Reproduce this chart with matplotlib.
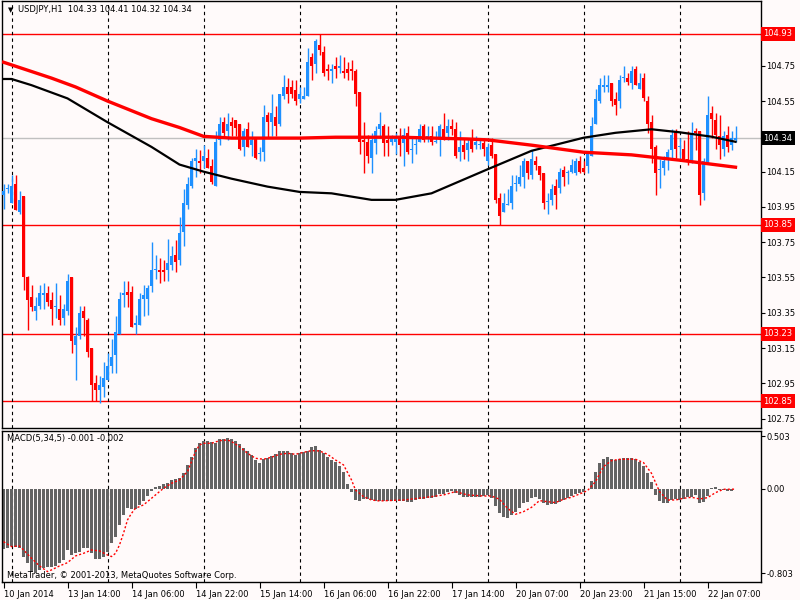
import matplotlib
matplotlib.use("Agg")
import matplotlib.pyplot as plt
from matplotlib.transforms import blended_transform_factory

# USDJPY H1 bars
opens = [104.02, 104.05, 103.97, 104.08, 103.92, 104.01, 103.55, 103.44, 103.36, 103.39,
         103.45, 103.46, 103.42, 103.38, 103.37, 103.32, 103.36, 103.55, 103.17, 103.22,
         103.36, 103.31, 103.15, 102.95, 102.91, 102.93, 102.97, 103.05, 103.11, 103.23,
         103.45, 103.47, 103.47, 103.28, 103.28, 103.43, 103.43, 103.50, 103.59, 103.59,
         103.59, 103.59, 103.62, 103.68, 103.65, 103.81, 103.96, 104.07, 104.21, 104.21,
         104.21, 104.23, 104.18, 104.07, 104.33, 104.43, 104.38, 104.43, 104.44, 104.42,
         104.29, 104.39, 104.30, 104.34, 104.25, 104.26, 104.47, 104.43, 104.46, 104.42,
         104.58, 104.63, 104.63, 104.61, 104.56, 104.56, 104.58, 104.80, 104.76, 104.87,
         104.83, 104.73, 104.72, 104.75, 104.74, 104.72, 104.73, 104.73, 104.72, 104.60,
         104.33, 104.32, 104.23, 104.31, 104.39, 104.41, 104.33, 104.32, 104.32, 104.34,
         104.31, 104.37, 104.27, 104.30, 104.32, 104.41, 104.34, 104.35, 104.32, 104.33,
         104.39, 104.37, 104.41, 104.39, 104.26, 104.30, 104.27, 104.34, 104.30, 104.30,
         104.31, 104.21, 104.30, 104.25, 104.00, 103.92, 103.96, 103.97, 104.08, 104.08,
         104.12, 104.21, 104.13, 104.21, 104.18, 104.14, 103.98, 103.99, 104.07, 104.06,
         104.16, 104.14, 104.15, 104.14, 104.21, 104.17, 104.18, 104.24, 104.42, 104.55,
         104.63, 104.63, 104.65, 104.56, 104.55, 104.68, 104.68, 104.65, 104.73, 104.62,
         104.68, 104.55, 104.43, 104.29, 104.16, 104.17, 104.22, 104.27, 104.38, 104.29,
         104.28, 104.22, 104.21, 104.38, 104.38, 104.03, 104.20, 104.48, 104.44, 104.35,
         104.28, 104.36, 104.30, 104.33]
highs = [104.08, 104.08, 104.13, 104.13, 104.04, 104.01, 103.56, 103.51, 103.44, 103.51,
         103.52, 103.50, 103.47, 103.52, 103.45, 103.40, 103.57, 103.55, 103.27, 103.39,
         103.39, 103.32, 103.15, 103.00, 102.99, 103.07, 103.12, 103.20, 103.33, 103.47,
         103.53, 103.53, 103.50, 103.34, 103.46, 103.51, 103.51, 103.75, 103.68, 103.66,
         103.65, 103.77, 103.73, 103.76, 103.89, 104.05, 104.12, 104.23, 104.28, 104.27,
         104.30, 104.28, 104.22, 104.38, 104.46, 104.46, 104.48, 104.46, 104.44, 104.42,
         104.40, 104.43, 104.38, 104.34, 104.29, 104.53, 104.49, 104.59, 104.52, 104.59,
         104.70, 104.68, 104.67, 104.67, 104.63, 104.63, 104.85, 104.82, 104.90, 104.93,
         104.86, 104.76, 104.76, 104.80, 104.81, 104.80, 104.77, 104.78, 104.73, 104.60,
         104.43, 104.36, 104.37, 104.41, 104.49, 104.42, 104.41, 104.36, 104.37, 104.40,
         104.40, 104.41, 104.34, 104.34, 104.42, 104.42, 104.41, 104.41, 104.38, 104.42,
         104.48, 104.45, 104.45, 104.43, 104.38, 104.34, 104.34, 104.39, 104.35, 104.34,
         104.34, 104.31, 104.34, 104.25, 104.03, 104.03, 104.05, 104.13, 104.13, 104.19,
         104.23, 104.21, 104.27, 104.24, 104.18, 104.14, 104.03, 104.08, 104.11, 104.17,
         104.18, 104.16, 104.22, 104.23, 104.24, 104.21, 104.26, 104.46, 104.62, 104.68,
         104.70, 104.70, 104.65, 104.60, 104.70, 104.75, 104.71, 104.75, 104.75, 104.71,
         104.71, 104.58, 104.47, 104.30, 104.22, 104.24, 104.28, 104.39, 104.39, 104.34,
         104.33, 104.38, 104.43, 104.40, 104.38, 104.23, 104.58, 104.52, 104.48, 104.47,
         104.38, 104.41, 104.38, 104.41]
lows = [103.94, 104.03, 103.97, 103.93, 103.91, 103.48, 103.25, 103.36, 103.31, 103.37,
        103.37, 103.39, 103.28, 103.32, 103.28, 103.28, 103.34, 103.12, 102.97, 103.20,
        103.22, 103.10, 102.85, 102.85, 102.84, 102.87, 102.97, 103.01, 103.01, 103.23,
        103.38, 103.38, 103.27, 103.23, 103.28, 103.33, 103.34, 103.47, 103.54, 103.52,
        103.53, 103.53, 103.59, 103.58, 103.62, 103.73, 103.94, 104.06, 104.12, 104.14,
        104.17, 104.17, 104.08, 104.07, 104.30, 104.34, 104.33, 104.35, 104.35, 104.27,
        104.24, 104.29, 104.24, 104.22, 104.21, 104.21, 104.34, 104.35, 104.35, 104.41,
        104.56, 104.54, 104.57, 104.53, 104.54, 104.56, 104.58, 104.67, 104.71, 104.81,
        104.69, 104.67, 104.65, 104.68, 104.71, 104.68, 104.67, 104.67, 104.52, 104.25,
        104.14, 104.20, 104.14, 104.25, 104.34, 104.24, 104.24, 104.30, 104.25, 104.24,
        104.18, 104.25, 104.20, 104.25, 104.32, 104.32, 104.32, 104.30, 104.31, 104.24,
        104.33, 104.33, 104.36, 104.23, 104.21, 104.22, 104.21, 104.26, 104.28, 104.28,
        104.24, 104.19, 104.23, 103.97, 103.85, 103.92, 103.96, 103.94, 104.04, 104.07,
        104.06, 104.11, 104.11, 104.16, 104.10, 103.94, 103.91, 103.96, 103.94, 104.03,
        104.07, 104.08, 104.14, 104.13, 104.14, 104.14, 104.14, 104.24, 104.42, 104.54,
        104.60, 104.60, 104.52, 104.47, 104.51, 104.66, 104.64, 104.62, 104.64, 104.62,
        104.55, 104.37, 104.20, 104.02, 104.06, 104.13, 104.16, 104.23, 104.23, 104.23,
        104.21, 104.19, 104.20, 104.27, 103.96, 103.99, 104.20, 104.34, 104.28, 104.22,
        104.24, 104.26, 104.27, 104.32]
closes = [104.04, 104.06, 104.07, 103.93, 103.99, 103.55, 103.42, 103.38, 103.39, 103.46,
          103.46, 103.41, 103.37, 103.39, 103.31, 103.37, 103.53, 103.19, 103.22, 103.35,
          103.32, 103.13, 102.94, 102.91, 102.94, 102.98, 103.05, 103.10, 103.24, 103.43,
          103.46, 103.45, 103.27, 103.29, 103.43, 103.45, 103.49, 103.59, 103.60, 103.58,
          103.58, 103.63, 103.67, 103.64, 103.80, 103.97, 104.08, 104.21, 104.23, 104.20,
          104.24, 104.17, 104.09, 104.32, 104.42, 104.37, 104.42, 104.41, 104.40, 104.28,
          104.38, 104.29, 104.33, 104.23, 104.25, 104.46, 104.43, 104.48, 104.41, 104.59,
          104.63, 104.59, 104.59, 104.55, 104.59, 104.58, 104.77, 104.75, 104.89, 104.84,
          104.71, 104.72, 104.73, 104.73, 104.74, 104.71, 104.71, 104.72, 104.59, 104.32,
          104.32, 104.24, 104.33, 104.38, 104.42, 104.31, 104.31, 104.34, 104.35, 104.30,
          104.36, 104.26, 104.28, 104.30, 104.39, 104.33, 104.35, 104.32, 104.32, 104.41,
          104.34, 104.41, 104.39, 104.24, 104.29, 104.26, 104.31, 104.28, 104.32, 104.30,
          104.28, 104.29, 104.24, 103.99, 103.90, 103.97, 103.96, 104.07, 104.08, 104.12,
          104.21, 104.14, 104.22, 104.19, 104.13, 103.97, 103.98, 104.05, 104.02, 104.15,
          104.12, 104.14, 104.19, 104.21, 104.15, 104.15, 104.25, 104.41, 104.56, 104.64,
          104.64, 104.64, 104.55, 104.53, 104.67, 104.68, 104.66, 104.72, 104.64, 104.65,
          104.57, 104.42, 104.28, 104.14, 104.16, 104.21, 104.26, 104.36, 104.28, 104.29,
          104.22, 104.21, 104.37, 104.37, 104.02, 104.21, 104.47, 104.45, 104.36, 104.30,
          104.35, 104.29, 104.34, 104.34]

# moving averages (red = slow, black = faster), sampled at bar indices
ma_red_idx = [0, 12, 18, 26, 37, 44, 50, 57, 74, 83, 99, 116, 121, 132, 145, 157, 169, 183]
ma_red = [104.77, 104.68, 104.63, 104.55, 104.45, 104.40, 104.35, 104.34, 104.34, 104.345,
          104.345, 104.335, 104.33, 104.30, 104.26, 104.245, 104.215, 104.175]
ma_black_idx = [0, 2, 7, 16, 26, 37, 44, 50, 57, 66, 74, 82, 92, 98, 107, 121, 132, 145,
                153, 162, 169, 177, 183]
ma_black = [104.675, 104.675, 104.64, 104.565, 104.43, 104.29, 104.19, 104.15, 104.11,
            104.065, 104.035, 104.027, 103.99, 103.99, 104.027, 104.163, 104.268, 104.342,
            104.37, 104.39, 104.373, 104.348, 104.319]

# MACD(5,34,5) histogram per bar
macd_hist = [-0.575, -0.559, -0.543, -0.549, -0.565, -0.644, -0.708, -0.787, -0.803, -0.771,
             -0.756, -0.746, -0.740, -0.730, -0.708, -0.676, -0.581, -0.629, -0.613, -0.597,
             -0.565, -0.565, -0.613, -0.670, -0.670, -0.644, -0.597, -0.517, -0.454, -0.343,
             -0.248, -0.178, -0.194, -0.194, -0.152, -0.111, -0.067, -0.019, 0.022, 0.032,
             0.044, 0.054, 0.086, 0.095, 0.108, 0.156, 0.229, 0.308, 0.387, 0.435,
             0.457, 0.460, 0.444, 0.435, 0.473, 0.476, 0.483, 0.476, 0.460, 0.429,
             0.394, 0.362, 0.324, 0.276, 0.251, 0.286, 0.292, 0.317, 0.330, 0.362,
             0.362, 0.362, 0.340, 0.324, 0.340, 0.356, 0.362, 0.397, 0.410, 0.371,
             0.340, 0.308, 0.276, 0.260, 0.222, 0.165, 0.044, -0.032, -0.105, -0.111,
             -0.098, -0.095, -0.105, -0.111, -0.114, -0.114, -0.114, -0.114, -0.114, -0.114,
             -0.114, -0.121, -0.121, -0.105, -0.098, -0.095, -0.089, -0.083, -0.073, -0.048,
             -0.048, -0.025, -0.016, -0.035, -0.057, -0.079, -0.073, -0.073, -0.073, -0.073,
             -0.067, -0.057, -0.089, -0.159, -0.232, -0.263, -0.273, -0.248, -0.216, -0.184,
             -0.137, -0.121, -0.089, -0.079, -0.095, -0.130, -0.152, -0.146, -0.146, -0.127,
             -0.105, -0.083, -0.067, -0.048, -0.035, -0.025, 0.004, 0.076, 0.159, 0.244,
             0.283, 0.308, 0.286, 0.276, 0.283, 0.298, 0.298, 0.298, 0.286, 0.260,
             0.222, 0.149, 0.070, -0.057, -0.114, -0.130, -0.130, -0.105, -0.095, -0.105,
             -0.098, -0.079, -0.073, -0.057, -0.130, -0.121, -0.067, 0.013, 0.022, -0.010,
             -0.010, -0.016, -0.016, -0.001]
signal_idx = [0, 2, 4, 5, 7, 9, 11, 12, 14, 16, 18, 20, 22, 24, 26, 27, 28, 29, 30, 31,
              32, 33, 35, 37, 39, 40, 42, 44, 46, 47, 48, 49, 50, 52, 54, 56, 57, 59, 61, 63,
              65, 67, 69, 71, 73, 75, 77, 79, 81, 83, 85, 87, 88, 90, 92, 94, 100, 105, 110,
              113, 116, 120, 122, 124, 126, 128, 130, 132, 134, 136, 138, 140, 142, 144, 146,
              148, 150, 152, 154, 156, 158, 160, 162, 164, 166, 168, 170, 172, 174, 176, 178,
              180, 183]
signal_vals = [-0.502, -0.549, -0.543, -0.581, -0.660, -0.733, -0.787, -0.771, -0.733, -0.702,
               -0.638, -0.613, -0.581, -0.590, -0.629, -0.644, -0.613, -0.533, -0.422, -0.295,
               -0.232, -0.184, -0.152, -0.089, -0.025, 0.006, 0.054, 0.086, 0.165, 0.260,
               0.356, 0.419, 0.435, 0.435, 0.460, 0.467, 0.451, 0.403, 0.340, 0.292,
               0.283, 0.302, 0.330, 0.340, 0.330, 0.349, 0.365, 0.362, 0.330, 0.276,
               0.229, 0.086, -0.010, -0.073, -0.105, -0.114, -0.105, -0.083, -0.057,
               -0.025, -0.057, -0.067, -0.067, -0.098, -0.184, -0.241, -0.216, -0.175, -0.111,
               -0.121, -0.130, -0.098, -0.079, -0.048, -0.016,
               0.070, 0.213, 0.270, 0.283, 0.283, 0.283, 0.251, 0.149, -0.025, -0.105,
               -0.105, -0.089, -0.079, -0.095, -0.083, -0.035, -0.003, -0.002]

levels = [104.93, 103.85, 103.23, 102.85]
bid = 104.34
price_ticks = [104.75, 104.55, 104.15, 103.95, 103.75, 103.55, 103.35, 103.15,
               102.95, 102.75]
day_starts = [2, 26, 50, 74, 98, 121, 145, 169]
time_ticks = [0, 16, 32, 48, 64, 80, 96, 112, 128, 144, 160, 176]
time_labels = ["10 Jan 2014", "13 Jan 14:00", "14 Jan 06:00", "14 Jan 22:00",
               "15 Jan 14:00", "16 Jan 06:00", "16 Jan 22:00", "17 Jan 14:00",
               "20 Jan 07:00", "20 Jan 23:00", "21 Jan 15:00", "22 Jan 07:00"]

BG = "#fffafa"
UP = "#1e90ff"
DOWN = "#ff0000"
FS = 6
X0, X1 = -0.375, 189.375

plt.rcParams["font.family"] = ["DejaVu Sans"]
fig = plt.figure(figsize=(8, 6), dpi=100, facecolor=BG)
W, H = 800, 600
ax = fig.add_axes([2 / W, 1 - 428 / H, 759 / W, 427 / H], facecolor=BG)
ax2 = fig.add_axes([2 / W, 1 - 582 / H, 759 / W, 151 / H], facecolor=BG)

n = len(opens)
xs = list(range(n))

# price panel
for lv in levels:
    ax.axhline(lv, color=DOWN, lw=1, zorder=1)
ax.axhline(bid, color="#c0c0c0", lw=1, zorder=1)
for d in day_starts:
    ax.axvline(d, color="black", lw=0.8, ls=(0, (3, 3)), zorder=1)
    ax2.axvline(d, color="black", lw=0.8, ls=(0, (3, 3)), zorder=1)

for i in xs:
    o, h, l, c = opens[i], highs[i], lows[i], closes[i]
    col = UP if c >= o else DOWN
    ax.vlines(i, l, h, color=col, lw=1, zorder=2)
    ax.bar(i, max(abs(c - o), 0.006), bottom=min(o, c), width=0.75, color=col,
           lw=0, zorder=3, antialiased=False)

ax.plot(ma_black_idx, ma_black, color="black", lw=1.6, zorder=4)
ax.plot(ma_red_idx, ma_red, color=DOWN, lw=2.4, zorder=4)

ax.set_xlim(X0, X1)
ax.set_ylim(102.697, 105.117)
ax.set_xticks([])
ax.yaxis.tick_right()
ax.set_yticks(price_ticks)
ax.set_yticklabels([f"{t:.2f}" for t in price_ticks])
ax.tick_params(axis="y", length=3, width=0.8, pad=1, labelsize=FS)

tr = blended_transform_factory(ax.transAxes, ax.transData)
for lv in levels:
    ax.text(1.003, lv, f"{lv:.2f}", transform=tr, fontsize=FS, color="white",
            va="center", ha="left", zorder=10, clip_on=False,
            bbox=dict(boxstyle="square,pad=0.3", fc=DOWN, ec="none"))
ax.text(1.003, bid, f"{bid:.2f}", transform=tr, fontsize=FS, color="white",
        va="center", ha="left", zorder=10, clip_on=False,
        bbox=dict(boxstyle="square,pad=0.3", fc="black", ec="none"))

# MACD panel
ax2.bar(xs, macd_hist, width=0.75, color="#646464", lw=0, zorder=2, antialiased=False)
ax2.plot(signal_idx, signal_vals, color=DOWN, lw=1, ls=(0, (1.5, 1.5)), zorder=3)
ax2.set_xlim(X0, X1)
ax2.set_ylim(-0.886, 0.552)
ax2.yaxis.tick_right()
ax2.set_yticks([0.503, 0.0, -0.803])
ax2.set_yticklabels(["0.503", "0.00", "-0.803"])
ax2.tick_params(axis="y", length=3, width=0.8, pad=1, labelsize=FS)
ax2.set_xticks(time_ticks)
ax2.set_xticklabels(time_labels, ha="left")
ax2.tick_params(axis="x", length=4, width=0.8, pad=2, labelsize=FS)

for a in (ax, ax2):
    for s in a.spines.values():
        s.set_linewidth(1)
        s.set_color("black")

fig.text(8 / W, 1 - 10 / H, "\u25bc", fontsize=5, va="center", ha="left")
fig.text(18 / W, 1 - 10 / H, "USDJPY,H1  104.33 104.41 104.32 104.34", fontsize=FS,
         va="center", ha="left")
fig.text(7 / W, 1 - 439 / H, "MACD(5,34,5) -0.001 -0.002", fontsize=FS, va="center",
         ha="left")
fig.text(7 / W, 1 - 575 / H, "MetaTrader, \u00a9 2001-2013, MetaQuotes Software Corp.",
         fontsize=FS, va="center", ha="left")

fig.savefig("out.png", dpi=100, facecolor=BG)
